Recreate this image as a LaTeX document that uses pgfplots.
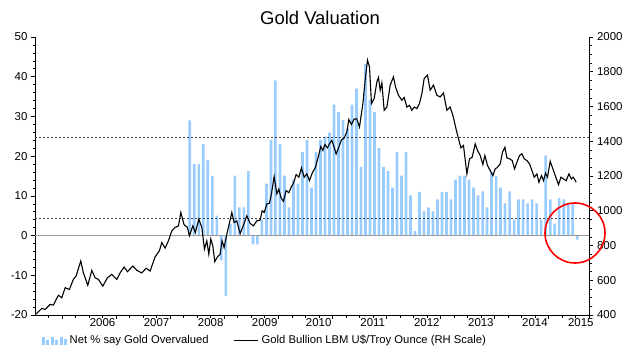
\documentclass[border=0pt]{standalone}
\usepackage{fontspec}
\setmainfont{Liberation Sans}
\usepackage{pgfplots}
\usepackage{pgfplotstable}
\pgfplotsset{compat=1.18}
\definecolor{barblue}{RGB}{153,204,255}

\pgfplotstableread{
t v
2008.365 29.0
2008.448 18.0
2008.532 18.0
2008.615 23.0
2008.698 19.0
2008.782 15.0
2008.865 5.0
2008.948 -6.2
2009.032 -15.2
2009.115 3.0
2009.198 15.1
2009.282 7.1
2009.365 7.1
2009.448 16.2
2009.532 -2.2
2009.615 -2.2
2009.698 4.0
2009.782 13.1
2009.865 24.1
2009.948 39.1
2010.032 23.0
2010.115 15.1
2010.198 7.1
2010.282 14.1
2010.365 13.1
2010.448 21.0
2010.532 24.1
2010.615 12.1
2010.698 21.0
2010.782 24.1
2010.865 24.9
2010.948 25.9
2011.032 33.0
2011.115 31.1
2011.198 29.1
2011.282 27.0
2011.365 33.0
2011.448 37.0
2011.532 17.3
2011.615 43.2
2011.698 34.1
2011.782 31.1
2011.865 22.1
2011.948 17.3
2012.032 16.2
2012.115 12.1
2012.198 21.0
2012.282 15.1
2012.365 21.0
2012.448 10.1
2012.532 1.1
2012.615 11.0
2012.698 6.1
2012.782 7.1
2012.865 6.1
2012.948 9.1
2013.032 11.0
2013.115 11.0
2013.198 9.1
2013.282 14.1
2013.365 15.1
2013.448 15.1
2013.532 14.1
2013.615 12.1
2013.698 10.1
2013.782 11.1
2013.865 7.1
2013.948 16.0
2014.032 15.0
2014.115 12.1
2014.198 8.1
2014.282 11.1
2014.365 4.0
2014.448 9.1
2014.532 9.1
2014.615 8.1
2014.698 9.1
2014.782 8.1
2014.865 4.0
2014.948 20.2
2015.032 9.1
2015.115 3.0
2015.198 9.4
2015.282 9.1
2015.365 8.1
2015.448 8.1
2015.532 -1.0
}\bars

\pgfplotstableread{
t v
2005.520 406
2005.625 438
2005.687 432
2005.779 461
2005.840 457
2005.933 514
2005.996 499
2006.057 557
2006.136 547
2006.210 605
2006.260 624
2006.347 711
2006.395 643
2006.477 571
2006.551 657
2006.612 614
2006.673 605
2006.754 566
2006.840 614
2006.921 634
2007.014 605
2007.075 643
2007.149 676
2007.210 649
2007.310 682
2007.384 657
2007.476 642
2007.556 669
2007.630 653
2007.722 734
2007.802 770
2007.846 817
2007.907 785
2007.969 827
2008.031 884
2008.093 904
2008.154 913
2008.198 990
2008.259 919
2008.320 904
2008.357 856
2008.420 913
2008.468 875
2008.531 952
2008.587 904
2008.635 779
2008.679 827
2008.716 750
2008.753 837
2008.790 798
2008.827 707
2008.875 734
2008.925 750
2008.962 827
2008.999 788
2009.049 865
2009.079 904
2009.142 990
2009.185 932
2009.234 942
2009.296 869
2009.346 908
2009.420 971
2009.481 927
2009.542 913
2009.605 942
2009.666 946
2009.703 1000
2009.740 990
2009.790 1039
2009.838 1044
2009.875 1097
2009.925 1197
2009.975 1097
2010.012 1125
2010.049 1077
2010.097 1054
2010.147 1116
2010.197 1104
2010.245 1139
2010.282 1158
2010.332 1208
2010.382 1193
2010.430 1247
2010.480 1193
2010.530 1212
2010.578 1173
2010.628 1216
2010.689 1250
2010.739 1308
2010.789 1370
2010.826 1347
2010.863 1381
2010.911 1362
2010.948 1385
2010.993 1405
2011.035 1366
2011.072 1327
2011.122 1366
2011.170 1408
2011.220 1418
2011.270 1453
2011.307 1525
2011.356 1497
2011.405 1528
2011.455 1528
2011.504 1482
2011.567 1617
2011.609 1751
2011.652 1867
2011.689 1828
2011.726 1617
2011.776 1646
2011.826 1742
2011.855 1767
2011.887 1694
2011.918 1736
2011.961 1578
2012.011 1597
2012.072 1723
2012.133 1771
2012.170 1713
2012.225 1665
2012.288 1636
2012.331 1652
2012.381 1597
2012.429 1607
2012.473 1578
2012.516 1597
2012.566 1588
2012.614 1617
2012.659 1675
2012.701 1761
2012.762 1780
2012.812 1694
2012.873 1723
2012.936 1665
2012.997 1655
2013.058 1678
2013.121 1578
2013.182 1597
2013.232 1549
2013.293 1467
2013.336 1415
2013.380 1362
2013.428 1376
2013.491 1212
2013.540 1299
2013.589 1308
2013.645 1385
2013.688 1347
2013.738 1318
2013.787 1266
2013.824 1318
2013.873 1260
2013.923 1231
2013.973 1202
2014.015 1241
2014.058 1250
2014.108 1270
2014.150 1337
2014.195 1366
2014.232 1304
2014.280 1299
2014.330 1289
2014.373 1241
2014.417 1279
2014.465 1318
2014.509 1328
2014.552 1299
2014.602 1289
2014.650 1270
2014.700 1227
2014.737 1193
2014.787 1212
2014.824 1164
2014.872 1202
2014.909 1173
2014.946 1216
2014.983 1193
2015.033 1285
2015.083 1241
2015.126 1202
2015.187 1150
2015.231 1193
2015.279 1183
2015.329 1173
2015.379 1212
2015.424 1183
2015.461 1193
2015.514 1164
}\gold

\begin{document}
\begin{tikzpicture}
\path[use as bounding box] (-35bp,-36bp) rectangle (605bp,315bp);
\pgfplotsset{
  mycommon/.style={
    scale only axis, width=554.5bp, height=278bp,
    at={(0bp,0bp)}, anchor=south west,
    xmin=2005.5, xmax=2015.76,
    tick align=outside,
    major tick length=4bp, minor tick length=2.5bp,
    tick style={black, line width=0.6bp},
    axis line style={black, line width=0.8bp},
    /pgf/number format/assume math mode=true,
    /pgf/number format/set thousands separator={},
    tick label style={font=\fontsize{11.5}{13}\selectfont},
  }
}
\begin{axis}[mycommon,
  axis y line*=left, axis x line*=bottom,
  ymin=-20, ymax=50, ytick={-20,-10,...,50}, minor y tick num=4,
  xtick={2006,2007,2008,2009,2010,2011,2012,2013,2014,2015},
  xticklabels={,,,,,,,,,},
  minor xtick={2005.75,2006,...,2015.75},
  extra x ticks={2006.75,2007.75,2008.75,2009.75,2010.75,2011.75,2012.75,2013.75,2014.75,2015.6},
  extra x tick labels={2006,2007,2008,2009,2010,2011,2012,2013,2014,2015},
  extra x tick style={major tick length=0pt},
]
\addplot[ybar, bar width=0.05, fill=barblue, draw=none] table[x=t, y=v] {\bars};
\addplot[gray!80, line width=1bp, forget plot] coordinates {(2005.5,0) (2015.76,0)};
\addplot[black!75, dash pattern=on 2bp off 2bp, line width=0.8bp, forget plot] coordinates {(2005.5,24.8) (2015.76,24.8)};
\addplot[black!75, dash pattern=on 2bp off 2bp, line width=0.8bp, forget plot] coordinates {(2005.5,4.2) (2015.76,4.2)};
\end{axis}
\begin{axis}[mycommon,
  axis y line*=right, axis x line=none,
  ymin=400, ymax=2000, ytick={400,600,...,2000}, minor y tick num=3,
  legend columns=2,
  legend style={at={(axis description cs:0.012,-0.092)}, anchor=west, draw=none, fill=none,
    font=\fontsize{11.3}{13}\selectfont, inner sep=0pt,
    nodes={inner sep=3bp},
    /tikz/every even column/.append style={column sep=22bp}},
]
\addlegendimage{legend image code/.code={
  \fill[barblue] (0bp,-3.5bp) rectangle (2bp,3bp);
  \fill[barblue] (4.5bp,-3.5bp) rectangle (6.5bp,0.5bp);
  \fill[barblue] (9bp,-3.5bp) rectangle (11bp,3bp);
  \fill[barblue] (13.5bp,-3.5bp) rectangle (15.5bp,0bp);
  \fill[barblue] (18bp,-3.5bp) rectangle (20bp,3bp);
  \fill[barblue] (22.5bp,-3.5bp) rectangle (24.5bp,1.5bp);}}
\addlegendentry{Net \% say Gold Overvalued}
\addplot[black, line width=1.1bp, legend image code/.code={\draw[black, line width=1bp] (0bp,0bp) -- (24bp,0bp);}] table[x=t, y=v] {\gold};
\addlegendentry{Gold Bullion LBM U\$/Troy Ounce (RH Scale)}
\end{axis}
\draw[red, line width=1.6bp] (540bp,82bp) circle[radius=30bp];
\node[anchor=base, font=\fontsize{18.5}{21}\selectfont] at (285bp,290bp) {Gold Valuation};
\end{tikzpicture}
\end{document}
